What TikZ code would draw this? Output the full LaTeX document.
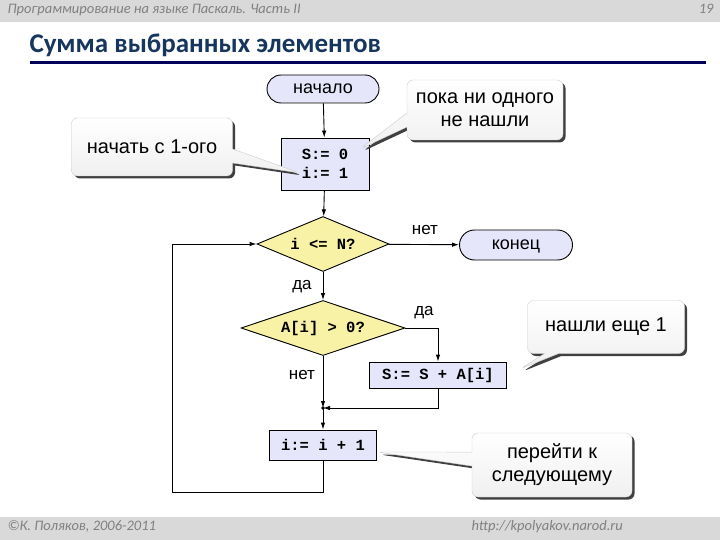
\documentclass[tikz,border=0pt]{standalone}
\usepackage{fontspec}
\setmainfont{Liberation Sans}
\setmonofont{Liberation Mono}
\newfontfamily\slidefont{Carlito}
\usetikzlibrary{arrows.meta,shapes.geometric,shapes.callouts,shadows}

\definecolor{blockfill}{RGB}{230,230,250}
\definecolor{condfill}{RGB}{247,242,165}
\definecolor{titleblue}{RGB}{23,54,93}
\definecolor{barnavy}{RGB}{0,0,90}
\definecolor{bandgray}{RGB}{217,217,217}

\tikzset{
  base/.style={draw, line width=0.9pt, fill=blockfill, inner sep=2pt},
  term/.style={base, rectangle, rounded corners=14pt, minimum width=112pt, minimum height=28pt,
    text height=2.1ex, text depth=.3ex, font=\fontsize{18}{18}\selectfont},
  action/.style={base, rectangle, align=center,
    font=\ttfamily\bfseries\fontsize{15.5}{19}\selectfont},
  decision/.style={base, diamond, aspect=2.6, fill=condfill, minimum width=132pt,
    minimum height=55pt, inner sep=0pt,
    font=\ttfamily\bfseries\fontsize{15.5}{16}\selectfont},
  lbl/.style={font=\fontsize{17}{17}\selectfont},
  note/.style={rectangle callout, rounded corners=6pt, draw=gray!40,
    top color=white, bottom color=gray!12,
    drop shadow={shadow xshift=2.5pt, shadow yshift=-2.5pt, fill=black!75, opacity=1},
    callout pointer width=14pt, align=center, font=\fontsize{20}{23}\selectfont},
  flow/.style={-{Latex[length=7pt,width=4.5pt]}, line width=0.9pt},
  band/.style={text=gray, text height=1.5ex, text depth=.4ex,
    font=\slidefont\itshape\fontsize{14.5}{14.5}\selectfont},
}

\begin{document}
\begin{tikzpicture}[x=1pt,y=-1pt]

  % slide frame
  \useasboundingbox (0,0) rectangle (720,540);
  \fill[white] (0,0) rectangle (720,540);
  \fill[bandgray] (0,0) rectangle (720,22);
  \fill[bandgray] (0,517) rectangle (720,540);
  \node[band, anchor=west] (course) at (4,11) {Программирование на языке Паскаль. Часть II};
  \node[band, anchor=east] (page) at (717,11) {19};
  \node[band, anchor=west] (copy) at (4,528) {©К. Поляков, 2006-2011};
  \node[band, anchor=west] (site) at (468,528) {http://kpolyakov.narod.ru};
  \node[anchor=west, text=titleblue, font=\slidefont\bfseries\fontsize{27}{27}\selectfont]
    (title) at (26,45) {Сумма выбранных элементов};
  \draw[barnavy, line width=3pt] (30,63) -- (706,63);

  % blocks
  \node[term] (start) at (323,89) {начало};
  \node[action, minimum width=88pt, minimum height=52pt] (init) at (325,164) {S:= 0\\i:= 1};
  \node[decision] (cond) at (323,244) {i <= N?};
  \node[term, minimum width=113pt, minimum height=30pt, rounded corners=15pt] (stop) at (516,245) {конец};
  \node[decision, minimum width=164pt] (pos) at (323,328) {A[i] > 0?};
  \node[action, minimum width=137pt, minimum height=26pt] (add) at (438,375) {S:= S + A[i]};
  \coordinate (join) at (323,408);
  \node[action, minimum width=107pt, minimum height=30pt] (inc) at (323,445) {i:= i + 1};
  \coordinate (back) at (172,492);

  % labels
  \node[lbl] (no1) at (425,230) {нет};
  \node[lbl] (yes1) at (302,287) {да};
  \node[lbl] (yes2) at (424,313) {да};
  \node[lbl] (no2) at (302,375) {нет};

  % connectors
  \draw[flow] (start) -- (init);
  \draw[flow] (init) -- (cond);
  \draw[flow] (cond) -- (stop);
  \draw[flow] (cond) -- (pos);
  \draw[flow] (pos.east) -| (add);
  \draw[flow] (pos) -- (join);
  \draw[flow] (add) |- (join);
  \fill (join) circle (1.8pt);
  \draw[flow] (join) -- (inc);
  \draw[flow] (inc) |- (back) |- (cond.west);

  % comments
  \node[note, callout absolute pointer={(300,173)}, minimum width=161pt, minimum height=58pt]
    (n1) at (152,147) {начать с 1-ого};
  \node[note, callout absolute pointer={(360,149)}, minimum width=156pt, minimum height=60pt]
    (n2) at (485,110) {пока ни одного\\не нашли};
  \node[note, callout absolute pointer={(520,369)}, minimum width=157pt, minimum height=53pt]
    (n3) at (606,327) {нашли еще 1};
  \node[note, callout absolute pointer={(377,452)}, minimum width=160pt, minimum height=64pt]
    (n4) at (552,465) {перейти к\\следующему};

\end{tikzpicture}
\end{document}
